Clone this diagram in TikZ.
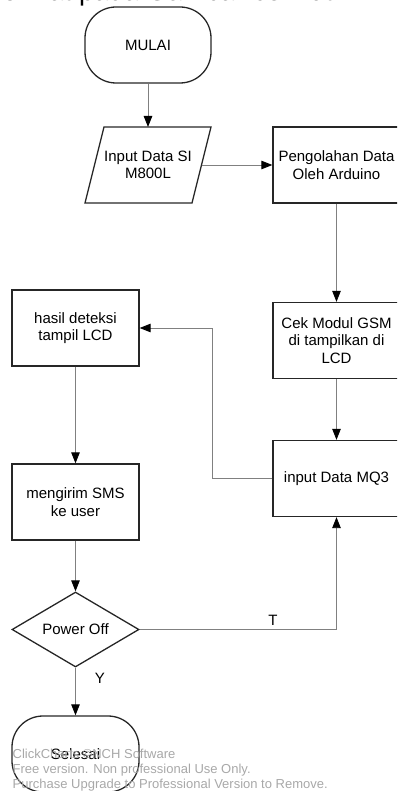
\documentclass[tikz,border=0pt]{standalone}
\usepackage{fontspec}
\setmainfont{Liberation Sans}
\usetikzlibrary{arrows.meta,shapes.geometric}
\definecolor{linec}{HTML}{808080}
\definecolor{boxc}{HTML}{262626}
\definecolor{wmc}{HTML}{A8A8A8}
\begin{document}
\begin{tikzpicture}[x=1pt,y=-1pt,
  every node/.style={inner sep=0pt,font=\fontsize{15}{17.5}\selectfont},
  stepbox/.style={draw=boxc,line width=1.3pt,minimum width=127pt,minimum height=76pt,align=center},
  term/.style={draw=boxc,line width=1.3pt,minimum width=126pt,minimum height=76pt,rounded corners=31pt,align=center},
  decide/.style={draw=boxc,line width=1.3pt,diamond,aspect=1.69,minimum width=127pt,minimum height=75pt,align=center},
  arr/.style={draw=linec,line width=0.9pt,-{Triangle[length=11pt,width=8.5pt,fill=black,color=black]}},
  wm/.style={text=wmc,font=\fontsize{13}{15}\selectfont,anchor=base west}
]
\useasboundingbox (0,0) rectangle (397,791);
\clip (0,0) rectangle (397,791);

% clipped heading text at the very top
\node[anchor=base east,font=\fontsize{27}{30}\selectfont] (head) at (333,1) {format pada Gambar berikut};

% nodes
\node[term] (mulai) at (148,45) {MULAI};
\node[align=center,minimum width=100pt,minimum height=76pt] (par) at (148,165) {Input Data SI\\M800L};
\draw[boxc,line width=1.3pt] (104,127) -- (211,127) -- (192,203) -- (85,203) -- cycle;
\coordinate (parE) at (201.5,165);
\node[stepbox] (peng) at (336.5,165) {Pengolahan Data\\Oleh Arduino};
\node[stepbox] (cek) at (336.5,340.5) {Cek Modul GSM\\di tampilkan di\\LCD};
\node[stepbox] (mq3) at (336.5,478.5) {input Data MQ3};
\node[stepbox] (hasil) at (75.5,328) {hasil deteksi\\tampil LCD};
\node[stepbox] (kirim) at (75.5,502) {mengirim SMS\\ke user};
\node[decide] (power) at (75.5,629.5) {Power Off};
\node[term,minimum width=127pt] (selesai) at (75.5,754) {Selesai};

% connectors
\draw[arr] (mulai.south) -- (148,127);
\draw[arr] (parE) -- (peng.west);
\draw[arr] (peng.south) -- (cek.north);
\draw[arr] (cek.south) -- (mq3.north);
\coordinate (j1) at (212,328);
\draw[arr] (mq3.west) -| (j1) -- (hasil.east);
\draw[arr] (hasil.south) -- (kirim.north);
\draw[arr] (kirim.south) -- (power.north);
\draw[arr] (power.east) -| (mq3.south);
\draw[arr] (power.south) -- (selesai.north);

% labels
\node (lt) at (273,620) {T};
\node (ly) at (100,678) {Y};

% watermark
\node[wm] (w1) at (12.5,758) {ClickCharts ©NCH Software};
\node[wm] (w2) at (12.5,773.5) {Free version. Non professional Use Only.};
\node[wm] (w3) at (12.5,788.5) {Purchase Upgrade to Professional Version to Remove.};
\end{tikzpicture}
\end{document}
